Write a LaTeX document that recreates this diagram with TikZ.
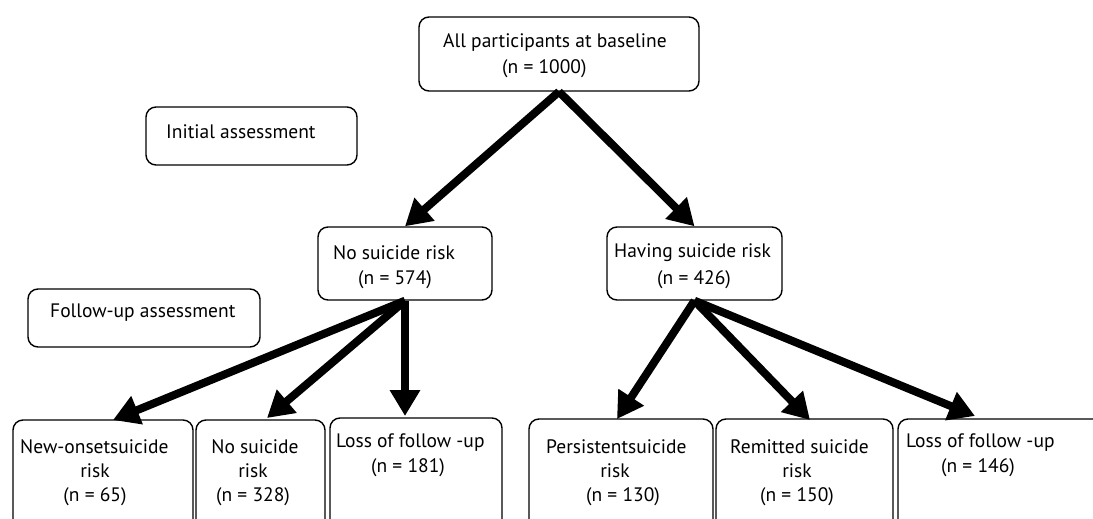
\documentclass[tikz,border=0pt]{standalone}
\usepackage{fontspec}
\setmainfont{PT Sans}
\usetikzlibrary{arrows.meta}
\begin{document}
\begin{tikzpicture}[x=1pt,y=-1pt,
  box/.style={draw, line width=1.4pt, rounded corners=10pt, inner sep=0pt},
  txt/.style={inner sep=0pt, font=\fontsize{19.5}{22}\selectfont},
  lt/.style={txt, anchor=west},
  arr/.style={line width=8pt, -{Triangle[length=26pt,width=29pt]}}]
\useasboundingbox (0,0) rectangle (1093,519);
\clip (0,0) rectangle (1093,519);
% boxes
\node[box, minimum width=280pt, minimum height=74pt] (top) at (559,54) {};
\node[box, minimum width=211pt, minimum height=58pt] (init) at (251.5,136) {};
\node[box, minimum width=232pt, minimum height=58pt] (fol) at (144,318) {};
\node[box, minimum width=174pt, minimum height=73pt] (nsr) at (405,263.5) {};
\node[box, minimum width=175pt, minimum height=73pt] (hsr) at (694.5,263.5) {};
\node[box, minimum width=180pt, minimum height=110pt] (b1) at (103,475) {};
\node[box, minimum width=129pt, minimum height=110pt] (b2) at (260.5,475) {};
\node[box, minimum width=172pt, minimum height=112pt] (b3) at (416,474) {};
\node[box, minimum width=184pt, minimum height=111pt] (b4) at (621,474.5) {};
\node[box, minimum width=177pt, minimum height=111pt] (b5) at (804.5,474.5) {};
\node[box, minimum width=212pt, minimum height=111pt] (b6) at (1004,474.5) {};
% texts
\node[lt] (topa) at (443,43) {All participants at baseline};
\node[lt] (topb) at (502,69) {(n = 1000)};
\node[lt] (inita) at (166,132) {Initial assessment};
\node[lt] (fola) at (50,313) {Follow-up assessment};
\node[lt] (nsra) at (333,253) {No suicide risk};
\node[lt] (nsrb) at (358,280) {(n = 574)};
\node[lt] (hsra) at (614,253) {Having suicide risk};
\node[lt] (hsrb) at (657,280) {(n = 426)};
\node[lt] (b1a) at (20,447) {New-onsetsuicide};
\node[txt] (b1b) at (95,471) {risk};
\node[txt] (b1c) at (95,497) {(n = 65)};
\node[txt] (b2a) at (255,447) {No suicide};
\node[txt] (b2b) at (253,471) {risk};
\node[txt] (b2c) at (253,497) {(n = 328)};
\node[lt] (b3a) at (336,443) {Loss of follow -up};
\node[txt] (b3b) at (408,468) {(n = 181)};
\node[lt] (b4a) at (546,447) {Persistentsuicide};
\node[txt] (b4b) at (615,471) {risk};
\node[txt] (b4c) at (623,497) {(n = 130)};
\node[lt] (b5a) at (730,447) {Remitted suicide};
\node[txt] (b5b) at (797,471) {risk};
\node[txt] (b5c) at (797,497) {(n = 150)};
\node[lt] (b6a) at (906,443) {Loss of follow -up};
\node[txt] (b6b) at (978,468) {(n = 146)};
% arrow tips
\coordinate (t1) at (113,420);
\coordinate (t2) at (267,418);
\coordinate (t3) at (405,416);
\coordinate (t4) at (617,419);
\coordinate (t5) at (810,420);
\coordinate (t6) at (975,416);
% arrows
\draw[arr] (top.south) -- (nsr.north);
\draw[arr] (top.south) -- (hsr.north);
\draw[arr] (nsr.south) -- (t1);
\draw[arr] (nsr.south) -- (t2);
\draw[arr] (nsr.south) -- (t3);
\draw[arr] (hsr.south) -- (t4);
\draw[arr] (hsr.south) -- (t5);
\draw[arr] (hsr.south) -- (t6);
\end{tikzpicture}
\end{document}
